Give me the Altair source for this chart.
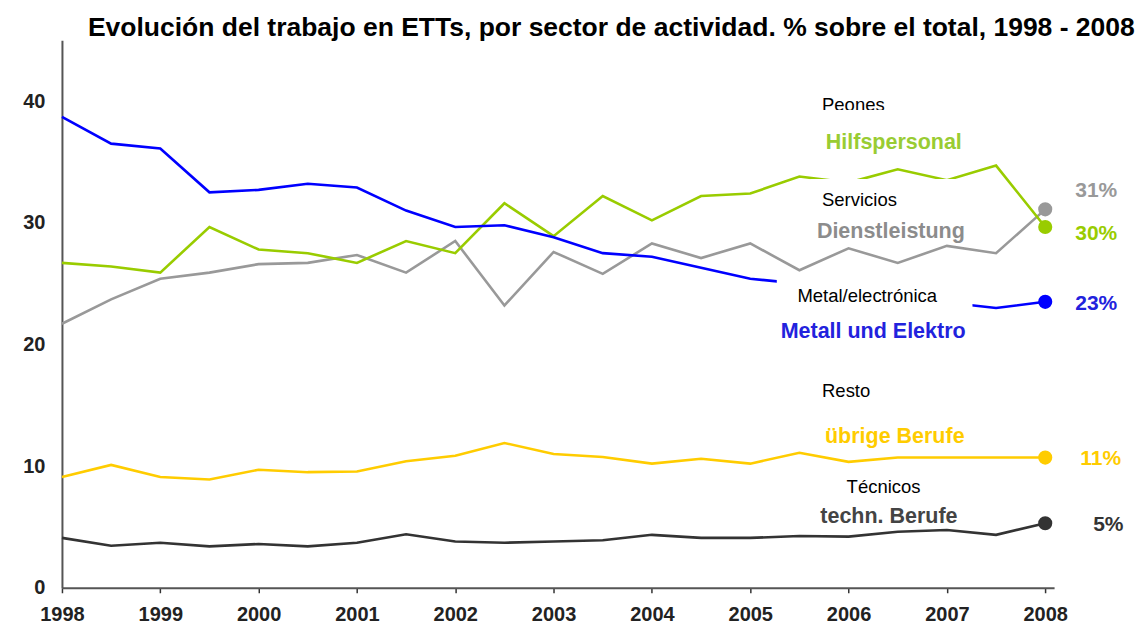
import altair as alt
import pandas as pd

FONT = "Liberation Sans, Arial, sans-serif"

# ---- data ----
periods = [1998, 1998.5, 1999, 1999.5, 2000, 2000.5, 2001, 2001.5, 2002, 2002.5,
           2003, 2003.5, 2004, 2004.5, 2005, 2005.5, 2006, 2006.5, 2007, 2007.5, 2008]

metall = [38.7, 36.5, 36.1, 32.5, 32.7, 33.2, 32.9, 31.0, 29.65, 29.8,
          28.8, 27.5, 27.2, 26.3, 25.4, 25.0, 24.5, 24.0, 23.45, 23.0, 23.5]
hilfs = [26.7, 26.4, 25.9, 29.65, 27.8, 27.5, 26.7, 28.5, 27.5, 31.6,
         28.9, 32.2, 30.2, 32.2, 32.4, 33.8, 33.3, 34.4, 33.5, 34.7, 29.65]
dienst = [21.7, 23.7, 25.4, 25.9, 26.6, 26.7, 27.35, 25.9, 28.5, 23.2,
          27.6, 25.8, 28.3, 27.1, 28.3, 26.1, 27.9, 26.7, 28.1, 27.5, 31.1]
uebrige = [9.1, 10.1, 9.1, 8.9, 9.7, 9.5, 9.55, 10.4, 10.85, 11.9,
           11.0, 10.75, 10.2, 10.6, 10.2, 11.1, 10.35, 10.7, 10.7, 10.7, 10.7]
techn = [4.1, 3.45, 3.7, 3.4, 3.6, 3.4, 3.7, 4.4, 3.8, 3.7,
         3.8, 3.9, 4.35, 4.1, 4.1, 4.25, 4.2, 4.6, 4.75, 4.35, 5.3]

series_names = ["techn. Berufe", "übrige Berufe", "Dienstleistung", "Hilfspersonal", "Metall und Elektro"]
series_values = [techn, uebrige, dienst, hilfs, metall]
series_colors = ["#333333", "#ffcc00", "#999999", "#99cc00", "#0000ff"]

# German series labels (centre positions, data units)
de_labels = ["Hilfspersonal", "Dienstleistung", "Metall und Elektro", "übrige Berufe", "techn. Berufe"]
de_x = [2006.46, 2006.43, 2006.25, 2006.47, 2006.41]
de_y = [36.55, 29.24, 21.03, 12.4, 5.83]
de_colors = ["#99cc33", "#8c8c8c", "#2222dd", "#ffcc00", "#444444"]

# Spanish translations (left edge positions, data units)
es_labels = ["Peones", "Servicios", "Metal/electrónica", "Resto", "Técnicos"]
es_x = [2005.73, 2005.73, 2005.48, 2005.73, 2005.98]
es_y = [39.7, 31.87, 23.98, 16.18, 8.3]

# end-value labels
pct_labels = ["31%", "30%", "23%", "11%", "5%"]
pct_x = [2008.305, 2008.305, 2008.305, 2008.356, 2008.488]
pct_y = [32.6, 29.08, 23.33, 10.6, 5.17]
pct_colors = ["#999999", "#99cc00", "#2222dd", "#ffcc00", "#333333"]

# white label backgrounds (data units): behind translations / clipping them
bg_x = [2005.61, 2005.27]
bg_x2 = [2007.13, 2007.26]
bg_y = [33.6, 25.5]
bg_y2 = [30.55, 23.0]
clip_x = [2005.66, 2005.90]
clip_x2 = [2007.29, 2007.10]
clip_y = [39.26, 7.64]
clip_y2 = [38.0, 6.98]

# ---- tables ----
rows = []
for name, vals in zip(series_names, series_values):
    for p, v in zip(periods, vals):
        rows.append({"periodo": p, "valor": v, "serie": name})
df = pd.DataFrame(rows)
df_end = df[df["periodo"] == 2008]

df_de = pd.DataFrame({"t": de_labels, "x": de_x, "y": de_y, "c": de_colors})
df_es = pd.DataFrame({"t": es_labels, "x": es_x, "y": es_y})
df_pct = pd.DataFrame({"t": pct_labels, "x": pct_x, "y": pct_y, "c": pct_colors})
df_bg = pd.DataFrame({"x": bg_x, "x2": bg_x2, "y": bg_y, "y2": bg_y2})
df_clip = pd.DataFrame({"x": clip_x, "x2": clip_x2, "y": clip_y, "y2": clip_y2})

xscale = alt.Scale(domain=[1998, 2008.09], nice=False, zero=False)
yscale = alt.Scale(domain=[0, 45], nice=False)
cscale = alt.Scale(domain=series_names, range=series_colors)

x_axis = alt.Axis(values=list(range(1998, 2009)), format="d", title=None,
                  labelFont=FONT, labelFontSize=20, labelFontWeight="bold",
                  labelColor="#222222", labelFlush=False, labelOverlap=False,
                  labelPadding=12, domainColor="#555555", domainWidth=2,
                  tickColor="#333333", tickSize=5, tickWidth=1.5, grid=False)
y_axis = alt.Axis(values=[0, 10, 20, 30, 40], title=None,
                  labelFont=FONT, labelFontSize=20, labelFontWeight="bold",
                  labelColor="#222222", labelPadding=17, ticks=False, tickSize=0,
                  domainColor="#555555", domainWidth=2, grid=False)

lines = alt.Chart(df).mark_line(strokeWidth=2.6).encode(
    x=alt.X("periodo:Q", scale=xscale, axis=x_axis),
    y=alt.Y("valor:Q", scale=yscale, axis=y_axis),
    color=alt.Color("serie:N", scale=cscale, legend=None),
)

bg = alt.Chart(df_bg).mark_rect(fill="white").encode(
    x=alt.X("x:Q", scale=xscale), x2="x2:Q",
    y=alt.Y("y:Q", scale=yscale), y2="y2:Q",
)

es_text = alt.Chart(df_es).mark_text(align="left", baseline="middle", font=FONT,
                                     fontSize=18.5, color="black").encode(
    x=alt.X("x:Q", scale=xscale), y=alt.Y("y:Q", scale=yscale), text="t:N",
)

clip = alt.Chart(df_clip).mark_rect(fill="white").encode(
    x=alt.X("x:Q", scale=xscale), x2="x2:Q",
    y=alt.Y("y:Q", scale=yscale), y2="y2:Q",
)

de_text = alt.Chart(df_de).mark_text(align="center", baseline="middle", font=FONT,
                                     fontSize=21.5, fontWeight="bold").encode(
    x=alt.X("x:Q", scale=xscale), y=alt.Y("y:Q", scale=yscale), text="t:N",
    color=alt.Color("c:N", scale=None),
)

dots = alt.Chart(df_end).mark_circle(size=200, opacity=1).encode(
    x=alt.X("periodo:Q", scale=xscale), y=alt.Y("valor:Q", scale=yscale),
    color=alt.Color("serie:N", scale=cscale, legend=None),
)

pct_text = alt.Chart(df_pct).mark_text(align="left", baseline="middle", font=FONT,
                                       fontSize=21, fontWeight="bold").encode(
    x=alt.X("x:Q", scale=xscale), y=alt.Y("y:Q", scale=yscale), text="t:N",
    color=alt.Color("c:N", scale=None),
)

chart = alt.layer(lines, bg, es_text, clip, de_text, dots, pct_text).properties(
    width=993, height=548,
    background="white",
    padding={"left": 54, "top": 32, "right": 86, "bottom": 36},
    autosize=alt.AutoSizeParams(type="none"),
    title=alt.TitleParams(
        "Evolución del trabajo en ETTs, por sector de actividad. % sobre el total, 1998 - 2008",
        font=FONT, fontSize=26.5, fontWeight="bold", color="black",
        anchor="start", frame="group", dx=26, dy=27, offset=5, baseline="alphabetic"),
).configure_view(stroke=None)

chart.save("out.html", embed_options={"renderer": "svg", "actions": False})
